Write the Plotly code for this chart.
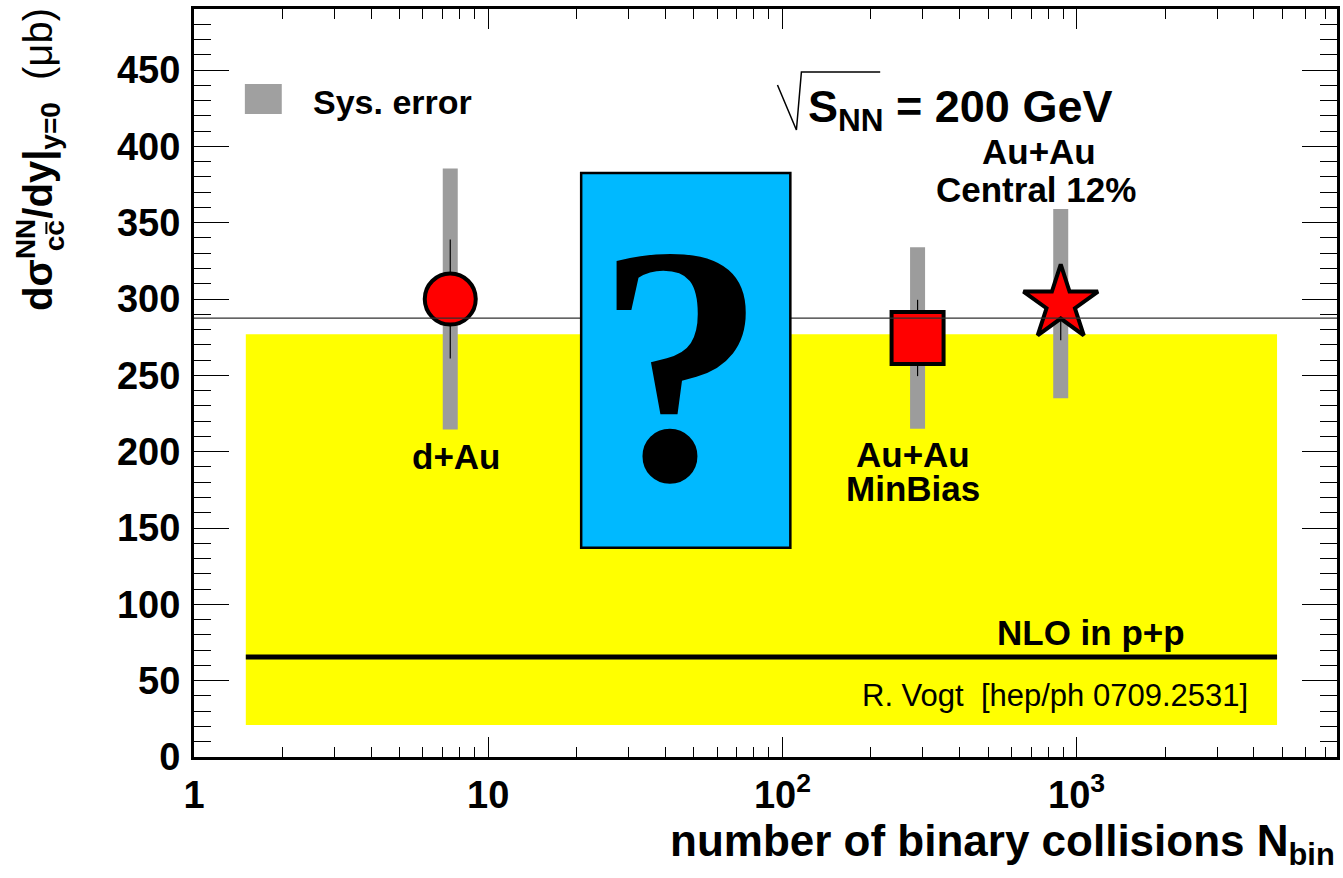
import numpy as np
import plotly.graph_objects as go

# ---------------- data ----------------
systems = ["d+Au", "Au+Au MinBias", "Au+Au Central 12%"]
nbin = [7.43, 288.0, 883.0]
dsigma = [300.0, 274.5, 297.0]
stat_err = [39.0, 25.0, 24.0]
sys_err_up = [85.5, 59.5, 62.0]
sys_err_down = [85.5, 59.5, 62.0]
marker_symbols = ["circle", "square", "star"]

nlo_band_x = [1.5, 4800.0]
nlo_band_y = [21.0, 277.0]
nlo_central = 65.5
pp_reference = 287.5
question_x = [20.7, 106.4]
question_y = [137.0, 382.5]

x_tick_vals = [1, 10, 100, 1000]
x_tick_text = ["1", "10", "10<sup>2</sup>", "10<sup>3</sup>"]
x_minor_vals = [m * d for d in [1, 10, 100, 1000] for m in range(2, 10)]

# ---------------- geometry helpers (pixel -> paper) ----------------
W, H = 1343, 878
L, R, T, B = 194, 3, 9, 121
PW, PH = W - L - R, H - T - B


def px(xp):
    return (xp - L) / PW


def py(yp):
    return (H - B - yp) / PH


FONT = "Liberation Sans, Arial, Helvetica, sans-serif"
SERIF = "Liberation Serif, Times New Roman, serif"

fig = go.Figure()

# NLO band + central line
fig.add_shape(type="rect", xref="x", yref="y",
              x0=nlo_band_x[0], x1=nlo_band_x[1], y0=nlo_band_y[0], y1=nlo_band_y[1],
              fillcolor="#ffff00", line=dict(width=0), layer="below")
fig.add_trace(go.Scatter(x=nlo_band_x, y=[nlo_central, nlo_central], mode="lines",
                         line=dict(color="black", width=5), hoverinfo="skip", showlegend=False))

# p+p reference line across the frame
fig.add_shape(type="line", xref="paper", yref="y", x0=0, x1=1,
              y0=pp_reference, y1=pp_reference, line=dict(color="#303030", width=1.3))

# question box
fig.add_shape(type="rect", xref="x", yref="y",
              x0=question_x[0], x1=question_x[1], y0=question_y[0], y1=question_y[1],
              fillcolor="#00b9ff", line=dict(color="black", width=2.5))

# systematic errors (grey bars)
fig.add_trace(go.Scatter(
    x=nbin, y=dsigma, mode="markers", marker=dict(size=1, opacity=0),
    error_y=dict(type="data", symmetric=False, array=sys_err_up, arrayminus=sys_err_down,
                 thickness=15, width=0, color="#9c9c9c"),
    hoverinfo="skip", showlegend=False))

# statistical errors
fig.add_trace(go.Scatter(
    x=nbin, y=dsigma, mode="markers", marker=dict(size=1, opacity=0),
    error_y=dict(type="data", array=stat_err, thickness=1.2, width=0, color="black"),
    hoverinfo="skip", showlegend=False))

# markers
fig.add_trace(go.Scatter(
    x=nbin, y=dsigma, mode="markers",
    marker=dict(symbol=marker_symbols, size=[51, 52, 56], color="#ff0000", opacity=1,
                line=dict(color="black", width=4)),
    text=systems, showlegend=False))

# ---------------- annotations ----------------
def label(xp, yp, text, size=35, xanchor="center", bold=True, family=FONT):
    return dict(x=px(xp), y=py(yp), xref="paper", yref="paper", xanchor=xanchor,
                yanchor="middle", text=(f"<b>{text}</b>" if bold else text), showarrow=False,
                font=dict(family=family, size=size, color="black"))


ann = []
ann.append(dict(x=1.655, y=257, xref="x", yref="y", text="<b>?</b>",
                showarrow=False, font=dict(family=SERIF, size=340, color="black"),
                xanchor="center", yanchor="middle"))
ann.append(label(457, 456, "d+Au"))
ann.append(label(915, 455, "Au+Au"))
ann.append(label(915, 488, "MinBias"))
ann.append(label(1041, 151, "Au+Au"))
ann.append(label(1038, 190, "Central 12%"))
ann.append(label(1190, 632, "NLO in p+p", xanchor="right"))
ann.append(label(1253, 695, "R. Vogt  [hep/ph 0709.2531]", size=31, xanchor="right", bold=False))
ann.append(label(311, 102, "Sys. error", size=34, xanchor="left"))
ann.append(label(808, 110, "S<sub>NN</sub> = 200 GeV", size=45, xanchor="left"))
# axis titles
ann.append(dict(x=1.0, y=py(874), xref="paper", yref="paper", xanchor="right", yanchor="bottom",
                text="<b>number of binary collisions N<sub>bin</sub></b>", showarrow=False,
                font=dict(family=FONT, size=44, color="black")))
ann.append(dict(x=px(37), y=py(6), xref="paper", yref="paper", xanchor="center", yanchor="top",
                textangle=-90,
                text="<b>dσ<sup>NN</sup>/dy|<sub>y=0</sub></b>  (μb)",
                showarrow=False, font=dict(family=FONT, size=40, color="black")))
ann.append(dict(x=px(54), y=py(236), xref="paper", yref="paper", xanchor="center", yanchor="middle",
                textangle=-90, text="<b>cc</b>", showarrow=False,
                font=dict(family=FONT, size=28, color="black")))

shapes_extra = [
    # legend square for systematic errors
    dict(type="rect", xref="paper", yref="paper", x0=px(245), x1=px(282), y0=py(114), y1=py(84),
         fillcolor="#a0a0a0", line=dict(width=0)),
    # square-root sign
    dict(type="path", xref="paper", yref="paper",
         path=f"M {px(779)},{py(85)} L {px(798)},{py(130)} L {px(803)},{py(72)} L {px(882)},{py(72)}",
         line=dict(color="black", width=1.5)),
    # bar over the anti-charm
    dict(type="line", xref="paper", yref="paper", x0=px(46), x1=px(46), y0=py(222), y1=py(234),
         line=dict(color="black", width=2)),
]
for s in shapes_extra:
    fig.add_shape(**s)

fig.update_layout(
    width=W, height=H,
    margin=dict(l=L, r=R, t=T, b=B, pad=0),
    paper_bgcolor="white", plot_bgcolor="white",
    annotations=ann,
    showlegend=False,
    font=dict(family=FONT, color="black"),
)

fig.update_xaxes(
    type="log", range=[0, 3.885],
    showline=True, linewidth=3, linecolor="black", mirror="allticks",
    ticks="inside", ticklen=20, tickwidth=1, tickcolor="black",
    tickmode="array", tickvals=x_tick_vals, ticktext=x_tick_text,
    tickfont=dict(family=FONT, size=38, color="black", weight="bold"),
    ticklabelstandoff=2,
    minor=dict(tickmode="array", tickvals=x_minor_vals, ticks="inside", ticklen=10,
               tickwidth=1, tickcolor="black", showgrid=False),
    showgrid=False, zeroline=False,
)
fig.update_yaxes(
    range=[0, 490],
    showline=True, linewidth=3, linecolor="black", mirror="allticks",
    ticks="inside", ticklen=35, tickwidth=1, tickcolor="black",
    tick0=0, dtick=50,
    tickfont=dict(family=FONT, size=38, color="black", weight="bold"),
    ticklabelstandoff=3,
    minor=dict(dtick=10, ticks="inside", ticklen=17, tickwidth=1, tickcolor="black",
               showgrid=False),
    showgrid=False, zeroline=False,
)

fig.write_html("out.html")
